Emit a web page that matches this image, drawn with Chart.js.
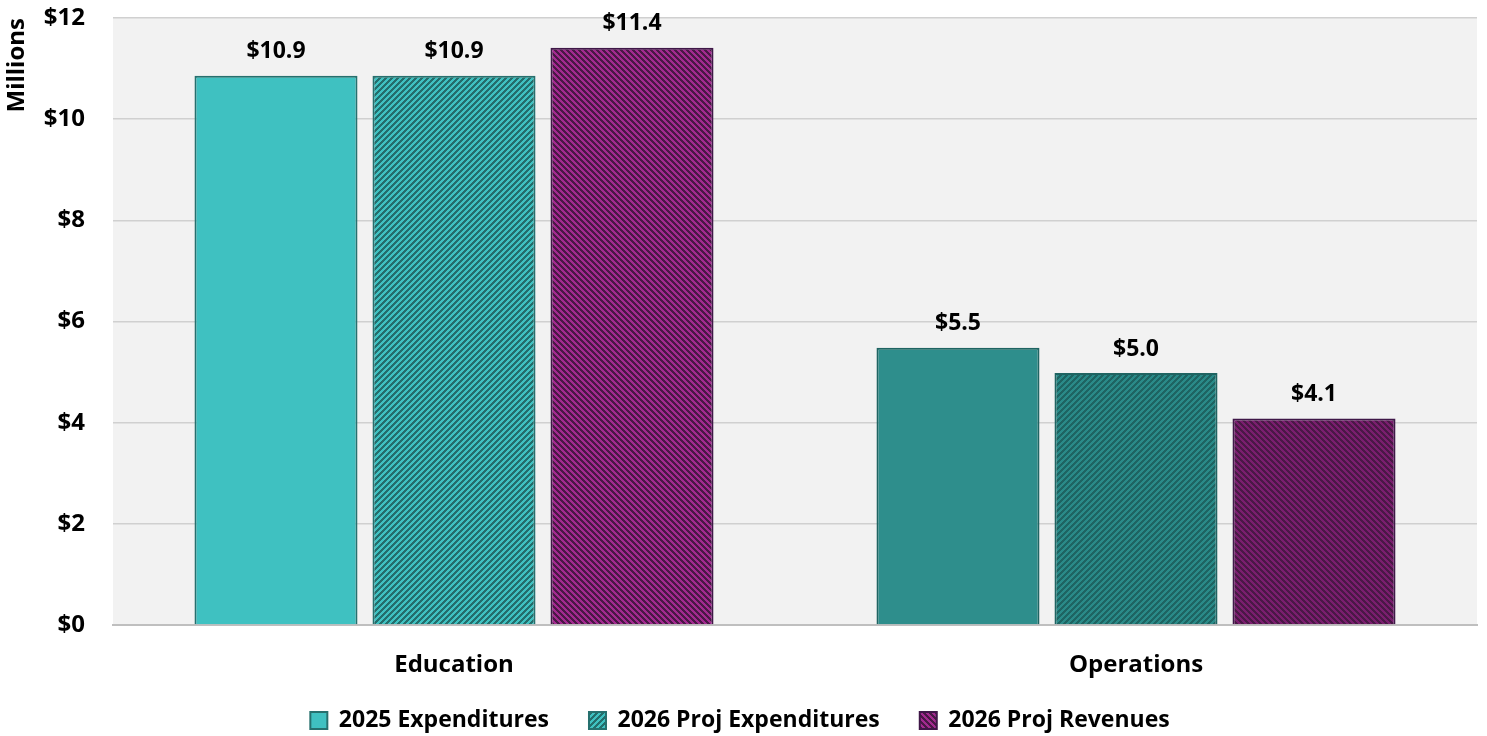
<!DOCTYPE html>
<html>
<head>
<meta charset="utf-8">
<script src="https://cdn.jsdelivr.net/npm/chart.js@4.4.1/dist/chart.umd.min.js"></script>
<style>
  html, body { margin: 0; padding: 0; background: #fff; }
  #wrap { width: 1487px; height: 736px; }
</style>
</head>
<body>
<div id="wrap"><canvas id="budgetChart"></canvas></div>
<script>
const categories = ['Education', 'Operations'];
const seriesNames = ['2025 Expenditures', '2026 Proj Expenditures', '2026 Proj Revenues'];
const exp2025 = [10.86, 5.48];
const projExp2026 = [10.86, 4.98];
const projRev2026 = [11.41, 4.08];
const yTicks = [0, 2, 4, 6, 8, 10, 12];

const FONT = 'Open Sans';

// pixel stripe tiles, dir 1 = "/" , -1 = "\"
function stripes(bg, fg, dir) {
    const c = document.createElement('canvas');
    c.width = 6; c.height = 6;
    const g = c.getContext('2d');
    g.fillStyle = bg;
    g.fillRect(0, 0, 6, 6);
    g.fillStyle = fg;
    for (let x = 0; x < 6; x++) {
        for (let y = 0; y < 6; y++) {
            const k = dir > 0 ? (x + y) % 6 : ((x - y) % 6 + 6) % 6;
            if (k < 3) g.fillRect(x, y, 1, 1);
        }
    }
    return g.createPattern(c, 'repeat');
}

const plotBg = {
    id: 'plotBg',
    beforeDraw(chart) {
        const { ctx, chartArea: a } = chart;
        ctx.save();
        ctx.fillStyle = '#f2f2f2';
        ctx.fillRect(a.left, a.top, a.right - a.left, a.bottom - a.top);
        ctx.restore();
    }
};

// legend keeps its wide item spacing but reserves less room and sits
// closer to the category labels
const legendNudge = {
    id: 'legendNudge',
    beforeLayout(chart) {
        const lg = chart.legend;
        if (lg && !lg._squeezed) {
            const fit = lg.fit.bind(lg);
            lg.fit = function () {
                fit();
                this.height = Math.min(this.height, 55);
            };
            lg._squeezed = true;
        }
    },
    afterLayout(chart) {
        const lg = chart.legend;
        lg.top = chart.height - 67;
        lg.bottom = chart.height;
    }
};

const barLabels = {
    id: 'barLabels',
    afterDatasetsDraw(chart) {
        const ctx = chart.ctx;
        ctx.save();
        ctx.font = 'bold 23px "' + FONT + '"';
        ctx.fillStyle = '#000';
        ctx.textAlign = 'center';
        ctx.textBaseline = 'middle';
        chart.data.datasets.forEach((ds, i) => {
            chart.getDatasetMeta(i).data.forEach((bar, j) => {
                ctx.fillText('$' + ds.data[j].toFixed(1), bar.x, bar.y - 24);
            });
        });
        ctx.restore();
    }
};

const ctx = document.getElementById('budgetChart').getContext('2d');

new Chart(ctx, {
    type: 'bar',
    data: {
        labels: categories,
        datasets: [
            {
                label: seriesNames[0],
                data: exp2025,
                backgroundColor: ['#3fc1c1', '#2e8e8c'],
                borderColor: ['#26706e', '#1f6462'],
                borderWidth: 2
            },
            {
                label: seriesNames[1],
                data: projExp2026,
                backgroundColor: [stripes('#3fc1c1', '#246e6c', 1), stripes('#2a8a88', '#1e6462', 1)],
                borderColor: ['#26706e', '#1f6462'],
                borderWidth: 2
            },
            {
                label: seriesNames[2],
                data: projRev2026,
                backgroundColor: [stripes('#a32a90', '#4a1846', -1), stripes('#7a1e6e', '#4a1846', -1)],
                borderColor: ['#3f1748', '#3f1748'],
                borderWidth: 2
            }
        ]
    },
    options: {
        responsive: true,
        maintainAspectRatio: false,
        animation: false,
        layout: { padding: { top: 18, right: 10, left: 3, bottom: 0 } },
        datasets: {
            bar: { barPercentage: 0.916, categoryPercentage: 0.783 }
        },
        scales: {
            x: {
                grid: { display: false, drawTicks: false },
                border: { color: '#bfbfbf', width: 2 },
                afterFit: axis => { axis.height = 56; },
                ticks: {
                    color: '#000',
                    padding: 26,
                    font: { family: FONT, size: 24, weight: 'bold' }
                }
            },
            y: {
                min: 0,
                max: 12,
                afterBuildTicks: axis => { axis.ticks = yTicks.map(v => ({ value: v })); },
                afterFit: axis => {
                    axis.width = 110;
                    axis.paddingTop = 0;
                    axis.paddingBottom = 0;
                },
                grid: { color: '#d0d0d0', lineWidth: 1.5, drawTicks: false },
                border: { display: false },
                ticks: {
                    color: '#000',
                    padding: 28,
                    font: { family: FONT, size: 24, weight: 'bold' },
                    callback: v => '$' + v
                },
                title: {
                    display: true,
                    text: 'Millions',
                    align: 'end',
                    color: '#000',
                    padding: 0,
                    font: { family: FONT, size: 24, weight: 'bold' }
                }
            }
        },
        plugins: {
            legend: {
                position: 'bottom',
                labels: {
                    color: '#000',
                    boxWidth: 17,
                    boxHeight: 17,
                    padding: 40,
                    font: { family: FONT, size: 23, weight: 'bold' }
                }
            },
            tooltip: { enabled: false }
        }
    },
    plugins: [plotBg, legendNudge, barLabels]
});
</script>
</body>
</html>
